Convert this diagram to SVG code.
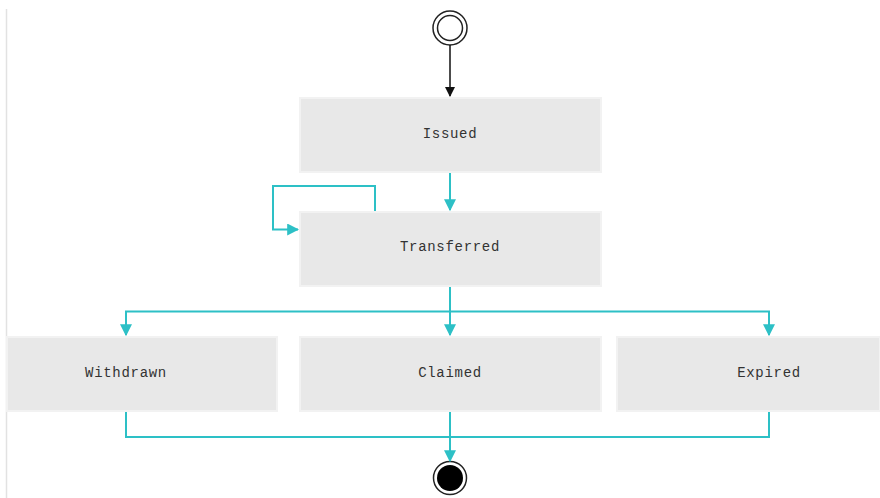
<svg xmlns="http://www.w3.org/2000/svg" width="880" height="498" viewBox="0 0 880 498">
<style>
.box{fill:#e8e8e8;stroke:#f2f2f2;stroke-width:2}
.lbl{font-family:"Liberation Mono","DejaVu Sans Mono",monospace;font-size:14px;letter-spacing:0.7px;fill:#333;text-anchor:middle;dominant-baseline:central}
.edge{fill:none;stroke:#2dc0c6;stroke-width:2}
</style>
<defs>
<marker id="ac" viewBox="0 0 10 10" refX="9" refY="5" markerWidth="6" markerHeight="6" orient="auto" markerUnits="strokeWidth"><path d="M0,0 L10,5 L0,10 Z" fill="#2dc0c6"/></marker>
<marker id="ab" viewBox="0 0 10 10" refX="9" refY="5" markerWidth="7" markerHeight="7" orient="auto" markerUnits="strokeWidth"><path d="M0,0 L10,5 L0,10 Z" fill="#111"/></marker>
</defs>
<rect width="880" height="498" fill="#fff"/>
<line x1="6.5" y1="9" x2="6.5" y2="498" stroke="#e2e2e2" stroke-width="1.5"/>
<g id="start">
<circle cx="450" cy="28" r="17" fill="#fff" stroke="#222" stroke-width="1.5"/>
<circle cx="450" cy="28" r="12.5" fill="#fff" stroke="#222" stroke-width="1.5"/>
</g>
<g id="issued"><rect class="box" x="300" y="98" width="301" height="74"/><text class="lbl" x="450" y="134">Issued</text></g>
<g id="transferred"><rect class="box" x="300" y="212" width="301" height="74"/><text class="lbl" x="450" y="247">Transferred</text></g>
<g id="withdrawn"><rect class="box" x="7" y="337" width="270" height="74"/><text class="lbl" x="126" y="373">Withdrawn</text></g>
<g id="claimed"><rect class="box" x="300" y="337" width="301" height="74"/><text class="lbl" x="450" y="373">Claimed</text></g>
<g id="expired"><rect class="box" x="617" y="337" width="263" height="74"/><text class="lbl" x="769" y="373">Expired</text></g>
<g id="end">
<circle cx="450" cy="478" r="16.5" fill="#fff" stroke="#222" stroke-width="1.5"/>
<circle cx="450" cy="478" r="13" fill="#000"/>
</g>
<g id="connectors">
<line x1="450" y1="45" x2="450" y2="96" stroke="#111" stroke-width="1.5" marker-end="url(#ab)"/>
<line class="edge" x1="450" y1="173" x2="450" y2="210" marker-end="url(#ac)"/>
<polyline class="edge" points="375,211 375,186 273,186 273,229.5 298,229.5" marker-end="url(#ac)"/>
<line class="edge" x1="450" y1="287" x2="450" y2="335" marker-end="url(#ac)"/>
<polyline class="edge" points="126,335 126,311.5 769,311.5 769,335" marker-end="url(#ac)"/>
<line class="edge" x1="126" y1="311.5" x2="126" y2="335" marker-end="url(#ac)"/>
<polyline class="edge" points="126,412 126,437 769,437 769,412"/>
<line class="edge" x1="450" y1="412" x2="450" y2="461" marker-end="url(#ac)"/>
</g>
</svg>
